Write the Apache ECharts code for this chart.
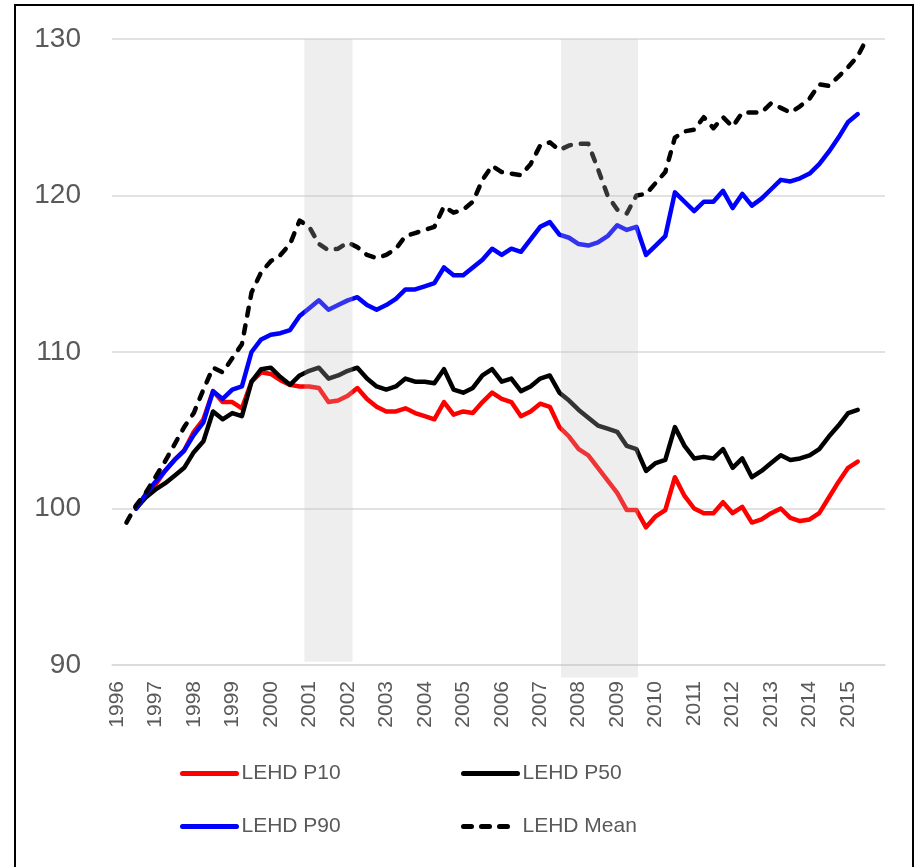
<!DOCTYPE html>
<html>
<head>
<meta charset="utf-8">
<script src="https://cdn.jsdelivr.net/npm/echarts@6/dist/echarts.min.js"></script>
<style>
  html, body { margin: 0; padding: 0; background: #fff; overflow: hidden; }
  #panel { width: 916px; height: 867px; }
  #frame { position: absolute; left: 14px; top: 4px; width: 896px; height: 900px; border: 2px solid #000; pointer-events: none; }
</style>
</head>
<body>
<div id="panel"></div>
<div id="frame"></div>
<script>
  // monthly categories, Dec 1995 .. Dec 2015
  const months = [];
  for (let i = 0; i < 241; i++) {
    const y = 1995 + Math.floor((11 + i) / 12);
    const m = (11 + i) % 12 + 1;
    months.push(y + '-' + (m < 10 ? '0' + m : m));
  }

  // quarterly series; P series start 1996-07, mean starts 1996-04
  const pStart = '1996-07';
  const meanStart = '1996-04';

  const p10 = [
    100.0, 100.9, 101.5, 102.4, 103.1, 103.7, 104.9, 105.7,
    107.5, 106.8, 106.8, 106.4, 108.1, 108.7, 108.6, 108.2,
    107.9, 107.8, 107.8, 107.7, 106.8, 106.9, 107.2, 107.7,
    107.0, 106.5, 106.2, 106.2, 106.4, 106.1, 105.9, 105.7,
    106.8, 106.0, 106.2, 106.1, 106.8, 107.4, 107.0, 106.8,
    105.9, 106.2, 106.7, 106.5, 105.2, 104.6, 103.8, 103.4,
    102.6, 101.8, 101.0, 99.9, 99.9, 98.8, 99.5, 99.9,
    102.0, 100.8, 100.0, 99.7, 99.7, 100.4, 99.7, 100.1,
    99.1, 99.3, 99.7, 100.0, 99.4, 99.2, 99.3, 99.7,
    100.7, 101.7, 102.6, 103.0
  ];
  const p50 = [
    100.0, 100.7, 101.2, 101.6, 102.1, 102.6, 103.6, 104.3,
    106.2, 105.7, 106.1, 105.9, 108.1, 108.9, 109.0, 108.4,
    107.9, 108.5, 108.8, 109.0, 108.3, 108.5, 108.8, 109.0,
    108.3, 107.8, 107.6, 107.8, 108.3, 108.1, 108.1, 108.0,
    108.9, 107.6, 107.4, 107.7, 108.5, 108.9, 108.1, 108.3,
    107.5, 107.8, 108.3, 108.5, 107.4, 106.9, 106.3, 105.8,
    105.3, 105.1, 104.9, 104.0, 103.8, 102.4, 102.9, 103.1,
    105.2, 104.0, 103.2, 103.3, 103.2, 103.8, 102.6, 103.2,
    102.0, 102.4, 102.9, 103.4, 103.1, 103.2, 103.4, 103.8,
    104.6, 105.3, 106.1, 106.3
  ];
  const p90 = [
    100.0, 100.9, 101.7, 102.4, 103.1, 103.7, 104.7, 105.5,
    107.5, 107.0, 107.6, 107.8, 110.0, 110.8, 111.1, 111.2,
    111.4, 112.3, 112.8, 113.3, 112.7, 113.0, 113.3, 113.5,
    113.0, 112.7, 113.0, 113.4, 114.0, 114.0, 114.2, 114.4,
    115.4, 114.9, 114.9, 115.4, 115.9, 116.6, 116.2, 116.6,
    116.4, 117.2, 118.0, 118.3, 117.5, 117.3, 116.9, 116.8,
    117.0, 117.4, 118.1, 117.8, 118.0, 116.2, 116.8, 117.4,
    120.2, 119.6, 119.0, 119.6, 119.6, 120.3, 119.2, 120.1,
    119.35, 119.8, 120.4, 121.0, 120.9, 121.1, 121.4, 122.0,
    122.8, 123.7, 124.7, 125.2
  ];
  const mean = [
    99.1, 100.2, 101.0, 102.0, 103.0, 104.1, 105.2, 106.1,
    107.6, 109.0, 108.7, 109.6, 110.5, 113.8, 115.1, 115.8,
    116.2, 116.9, 118.4, 118.0, 116.9, 116.5, 116.6, 117.0,
    116.7, 116.2, 116.0, 116.2, 116.6, 117.4, 117.6, 117.8,
    118.0, 119.3, 118.9, 119.1, 119.6, 121.0, 121.9, 121.5,
    121.4, 121.3, 122.0, 123.2, 123.4, 122.9, 123.2, 123.3,
    123.3, 121.7, 120.0, 119.1, 118.85, 120.0, 120.1, 120.8,
    121.5, 123.7, 124.1, 124.2, 125.0, 124.3, 125.0, 124.4,
    125.3, 125.3, 125.3, 125.9, 125.6, 125.3, 125.7, 126.2,
    127.1, 127.0, 127.6, 128.2, 128.9, 130.1
  ];

  // recession shading: first month, last month, top, bottom
  const bands = [
    ['2000-12', '2002-02', 130, 90.2],
    ['2007-08', '2009-07', 130, 89.2]
  ];

  const yTicks = [90, 100, 110, 120, 130];

  function quarterly(values, start) {
    const s = months.indexOf(start);
    return values.map((v, k) => [months[s + 3 * k], v]);
  }

  const textColor = '#595959';
  const gridColor = '#d9d9d9';

  const legendBase = {
    orient: 'vertical',
    top: 758,
    itemWidth: 54, itemHeight: 14, itemGap: 32,
    itemStyle: { opacity: 0 },
    lineStyle: { width: 5 },
    textStyle: { color: textColor, fontFamily: 'Liberation Sans', fontSize: 21 }
  };

  let panel = echarts.init(document.getElementById('panel'));
  let option = {
    animation: false,
    grid: { left: 112, right: 31, top: 39, bottom: 202 },
    xAxis: {
      type: 'category',
      data: months,
      boundaryGap: true,
      axisLine: { lineStyle: { color: gridColor, width: 1.5 } },
      axisTick: { interval: 0, length: 4, lineStyle: { color: gridColor } },
      axisLabel: {
        interval: (idx, val) => val.slice(5) === '01',
        formatter: val => val.slice(0, 4),
        rotate: 90,
        margin: 16,
        color: textColor,
        fontFamily: 'Liberation Sans',
        fontSize: 21
      },
      splitLine: { show: false }
    },
    yAxis: {
      type: 'value',
      min: yTicks[0],
      max: yTicks[yTicks.length - 1],
      interval: 10,
      axisLine: { show: false },
      axisTick: { show: false },
      axisLabel: { color: textColor, fontFamily: 'Liberation Sans', fontSize: 28, margin: 31 },
      splitLine: { lineStyle: { color: gridColor, width: 1.5 } }
    },
    legend: [
      Object.assign({}, legendBase, { left: 175, data: ['LEHD P10', 'LEHD P90'] }),
      Object.assign({}, legendBase, { left: 456, data: ['LEHD P50', 'LEHD Mean'] })
    ],
    series: [
      {
        name: 'LEHD P10', type: 'line', symbol: 'none',
        lineStyle: { color: '#ff0000', width: 4.5, cap: 'round', join: 'round' },
        itemStyle: { color: '#ff0000' },
        data: quarterly(p10, pStart)
      },
      {
        name: 'LEHD P50', type: 'line', symbol: 'none',
        lineStyle: { color: '#000000', width: 4.5, cap: 'round', join: 'round' },
        itemStyle: { color: '#000000' },
        data: quarterly(p50, pStart)
      },
      {
        name: 'LEHD P90', type: 'line', symbol: 'none',
        lineStyle: { color: '#0000ff', width: 4.5, cap: 'round', join: 'round' },
        itemStyle: { color: '#0000ff' },
        data: quarterly(p90, pStart)
      },
      {
        name: 'LEHD Mean', type: 'line', symbol: 'none',
        lineStyle: { color: '#000000', width: 4.5, type: [8, 10], cap: 'round', join: 'round' },
        itemStyle: { color: '#000000' },
        data: quarterly(mean, meanStart)
      },
      {
        type: 'custom',
        z: 5,
        silent: true,
        encode: { x: [0, 1], y: [2, 3] },
        data: bands.map(b => [months.indexOf(b[0]), months.indexOf(b[1]), b[2], b[3]]),
        renderItem: function (params, api) {
          const w = api.size([1, 0])[0];
          const p0 = api.coord([api.value(0), api.value(2)]);
          const p1 = api.coord([api.value(1), api.value(3)]);
          return {
            type: 'rect',
            shape: { x: p0[0] - w / 2, y: p0[1], width: p1[0] - p0[0] + w, height: p1[1] - p0[1] },
            style: { fill: 'rgba(191,191,191,0.27)' }
          };
        }
      }
    ]
  };
  panel.setOption(option, true);
</script>
</body>
</html>
